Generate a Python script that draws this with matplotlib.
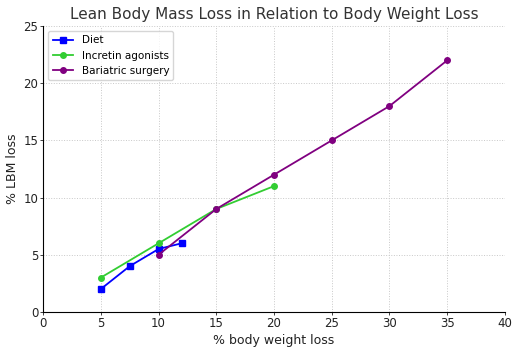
import matplotlib
matplotlib.use("Agg")
import matplotlib.pyplot as plt

diet_x = [5, 7.5, 10, 12]
diet_y = [2, 4, 5.5, 6]
incretin_x = [5, 10, 15, 20]
incretin_y = [3, 6, 9, 11]
bariatric_x = [10, 15, 20, 25, 30, 35]
bariatric_y = [5, 9, 12, 15, 18, 22]

fig = plt.figure(figsize=(5.2, 3.52), dpi=100)
ax = fig.add_axes([0.083, 0.114, 0.888, 0.812])
ax.plot(diet_x, diet_y, color='blue', marker='s', markersize=4, linewidth=1.3, label='Diet')
ax.plot(incretin_x, incretin_y, color='limegreen', marker='o', markersize=4, linewidth=1.3, label='Incretin agonists')
ax.plot(bariatric_x, bariatric_y, color='purple', marker='o', markersize=4, linewidth=1.3, label='Bariatric surgery')
ax.set_xlim(0, 40)
ax.set_ylim(0, 25)
ax.grid(True, linestyle=':', color='#c8c8c8', linewidth=0.7)
ax.set_title('Lean Body Mass Loss in Relation to Body Weight Loss', fontsize=11, color='#333333', pad=5)
ax.set_xlabel('% body weight loss', fontsize=9, color='#222222', labelpad=3)
ax.set_ylabel('% LBM loss', fontsize=9, color='#222222', labelpad=3)
ax.tick_params(labelsize=8.5, length=2, width=0.6, pad=1.5, colors='#222222')
for s in ['top', 'right']:
    ax.spines[s].set_visible(False)
for s in ['left', 'bottom']:
    ax.spines[s].set_linewidth(0.8)
ax.legend(loc='upper left', fontsize=7.5, handlelength=2)
fig.savefig('out.png', dpi=100)
